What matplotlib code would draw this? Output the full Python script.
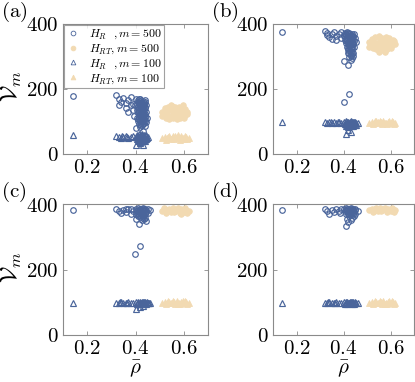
import matplotlib
matplotlib.use("Agg")
import matplotlib.pyplot as plt
from matplotlib.ticker import FuncFormatter
from matplotlib.lines import Line2D

plt.rcParams['mathtext.fontset'] = 'cm'
plt.rcParams['font.family'] = ['DejaVu Serif']

BLUE = '#4a659b'
BEIGE = '#f2dab2'

panels = ['(a)', '(b)', '(c)', '(d)']
x_ticks = [0.2, 0.4, 0.6]
y_ticks = [0, 200, 400]
legend_labels = [r'$H_R\ \ , m=500$', r'$H_{RT}, m=500$',
                 r'$H_R\ \ , m=100$', r'$H_{RT}, m=100$']

# ---------------- panel (a) ----------------
a_hr500 = [(0.14,178),(0.32,180),(0.33,170),(0.33,150),(0.35,172),(0.36,140),(0.37,165),(0.38,150),
           (0.39,135),(0.36,158),(0.34,160),(0.38,175),(0.40,168),(0.39,155),(0.37,130),
           (0.410,165),(0.420,168),(0.430,163),(0.440,160),(0.405,155),(0.415,158),(0.425,152),
           (0.435,156),(0.445,150),(0.410,145),(0.420,142),(0.430,147),(0.440,140),(0.405,135),
           (0.415,132),(0.425,137),(0.435,130),(0.445,128),(0.410,125),(0.420,120),(0.430,123),
           (0.440,118),(0.405,112),(0.415,115),(0.425,110),(0.435,108),(0.448,112),(0.410,100),
           (0.420,104),(0.430,98),(0.440,102),(0.415,92),(0.425,88),(0.435,94),(0.445,97),
           (0.400,80),(0.430,72),(0.420,82),(0.440,85),(0.395,118),(0.398,150),
           (0.412,160),(0.422,155),(0.432,150),(0.418,148),(0.428,140),(0.438,145),(0.412,138),
           (0.422,128),(0.432,133),(0.418,118),(0.428,115),(0.438,122),(0.412,108),(0.422,96),
           (0.432,105),(0.428,160),(0.438,165),(0.415,170),(0.425,126),(0.440,110),
           (0.417,163),(0.427,157),(0.437,152),(0.417,153),(0.433,141),(0.423,135),(0.413,128),
           (0.433,127),(0.418,124),(0.428,120),(0.423,113),(0.433,114),(0.418,103),(0.428,108),
           (0.426,100),(0.420,90),(0.430,92)]
a_hrt500 = [(0.520,140),(0.535,145),(0.550,147),(0.565,145),(0.580,146),(0.595,143),(0.605,138),
            (0.510,130),(0.525,133),(0.540,135),(0.555,132),(0.570,136),(0.585,134),(0.600,131),
            (0.615,128),(0.515,120),(0.530,122),(0.545,118),(0.560,123),(0.575,120),(0.590,121),
            (0.605,119),(0.612,124),(0.525,110),(0.540,108),(0.555,112),(0.570,107),(0.585,110),
            (0.600,112),(0.510,116),(0.595,150),(0.545,150)]
a_hr100 = [(0.14,57),(0.32,55),(0.33,52),(0.34,50),(0.35,53),(0.36,55),(0.37,50),(0.38,52),(0.39,54),
           (0.345,55),(0.365,51),(0.405,58),(0.415,60),(0.425,61),(0.435,59),(0.445,57),(0.400,52),
           (0.410,50),(0.420,53),(0.430,51),(0.440,50),(0.450,52),(0.405,45),(0.415,43),(0.425,46),
           (0.435,44),(0.445,45),(0.410,40),(0.420,38),(0.430,41),(0.440,39),(0.400,28),(0.430,28),
           (0.420,33),(0.412,55),(0.422,56),(0.432,55),(0.442,54),(0.418,48),(0.428,49),(0.438,48),
           (0.412,46),(0.432,46),(0.422,42),(0.408,55),(0.448,48),(0.417,58),(0.427,57),(0.437,56),
           (0.425,50),(0.435,50),(0.415,51)]
a_hrt100 = [(0.510,50),(0.520,53),(0.530,48),(0.540,55),(0.550,50),(0.560,46),(0.570,52),(0.580,49),
            (0.590,54),(0.600,47),(0.610,51),(0.620,48),(0.525,44),(0.555,56),(0.585,44),(0.605,55),
            (0.545,47),(0.575,57),(0.615,45),(0.535,51),(0.565,54),(0.595,50)]

# ---------------- panel (b) ----------------
b_hr500 = [(0.14,375),(0.32,378),(0.33,372),(0.33,365),(0.34,360),(0.35,368),(0.36,375),(0.37,362),
           (0.38,370),(0.39,358),(0.37,352),(0.39,375),(0.40,365),(0.35,355),
           (0.405,372),(0.415,375),(0.425,373),(0.435,370),(0.445,368),(0.400,362),(0.410,365),
           (0.420,362),(0.430,364),(0.440,360),(0.450,358),(0.405,352),(0.415,355),(0.425,350),
           (0.435,353),(0.445,348),(0.410,342),(0.420,340),(0.430,344),(0.440,338),(0.455,345),
           (0.415,330),(0.425,332),(0.435,328),(0.445,330),(0.418,320),(0.428,318),(0.438,322),
           (0.420,310),(0.430,305),(0.440,312),(0.425,298),(0.435,295),(0.430,290),(0.400,285),
           (0.420,275),(0.404,160),(0.424,184),
           (0.412,368),(0.422,368),(0.432,367),(0.442,364),(0.418,358),(0.428,357),(0.438,358),
           (0.412,348),(0.422,346),(0.432,348),(0.442,343),(0.428,337),(0.420,325),(0.432,325),
           (0.424,312),(0.435,310),(0.440,300),(0.417,371),(0.427,362),(0.437,363),(0.417,352),
           (0.427,344),(0.437,340),(0.422,334),(0.433,334),(0.426,322),(0.430,315),(0.434,302)]
b_hrt500 = [(0.520,355),(0.535,360),(0.550,362),(0.565,358),(0.580,361),(0.595,356),(0.610,352),
            (0.510,345),(0.525,348),(0.540,343),(0.555,350),(0.570,346),(0.585,349),(0.600,344),
            (0.615,347),(0.515,335),(0.530,338),(0.545,333),(0.560,336),(0.575,332),(0.590,337),
            (0.605,334),(0.620,338),(0.525,325),(0.540,322),(0.555,327),(0.570,320),(0.585,324),
            (0.600,326),(0.550,315),(0.575,313),(0.510,330)]
b_hr100 = [(0.14,97),(0.32,98),(0.33,96),(0.34,97),(0.35,95),(0.36,98),(0.37,96),(0.38,97),(0.39,95),
           (0.345,99),(0.375,99),(0.400,98),(0.410,100),(0.420,99),(0.430,101),(0.440,98),(0.450,97),
           (0.460,95),(0.405,92),(0.415,90),(0.425,93),(0.435,91),(0.445,92),(0.455,90),(0.410,86),
           (0.420,84),(0.430,87),(0.440,85),(0.410,60),(0.430,68),(0.420,75),
           (0.412,95),(0.422,96),(0.432,96),(0.442,95),(0.452,94),(0.418,89),(0.428,89),(0.438,88),
           (0.448,88),(0.416,99),(0.426,98),(0.436,99),(0.446,99)]
b_hrt100 = [(0.510,95),(0.520,98),(0.530,96),(0.540,100),(0.550,95),(0.560,98),(0.570,101),(0.580,96),
            (0.590,99),(0.600,95),(0.610,98),(0.620,96),(0.525,93),(0.555,102),(0.585,93),(0.605,101),
            (0.545,97),(0.575,94),(0.615,93),(0.535,102),(0.565,93),(0.595,102)]

# ---------------- panel (c) ----------------
c_hr500 = [(0.14,383),(0.32,384),(0.33,378),(0.34,372),(0.35,383),(0.36,376),(0.37,384),(0.38,370),
           (0.39,380),(0.36,385),(0.38,385),(0.46,383),(0.45,372),
           (0.400,385),(0.410,387),(0.420,386),(0.430,388),(0.440,385),(0.450,384),(0.405,378),
           (0.415,380),(0.425,377),(0.435,379),(0.445,376),(0.400,370),(0.410,371),(0.420,368),
           (0.430,372),(0.440,369),(0.410,362),(0.420,360),(0.430,364),(0.440,358),(0.425,352),
           (0.435,355),(0.400,355),(0.445,348),(0.415,340),(0.398,246),(0.419,272),
           (0.412,382),(0.422,382),(0.432,383),(0.442,381),(0.418,374),(0.428,374),(0.438,374),
           (0.412,366),(0.425,366),(0.435,367),(0.430,358),(0.417,385),(0.427,385),(0.437,386),
           (0.423,371),(0.433,369)]
c_hrt500 = [(0.510,380),(0.520,384),(0.530,378),(0.540,386),(0.550,381),(0.560,375),(0.570,383),
            (0.580,379),(0.590,385),(0.600,377),(0.610,382),(0.620,379),(0.525,373),(0.555,388),
            (0.585,372),(0.605,387),(0.545,376),(0.575,388),(0.615,374),(0.535,383),(0.565,380),
            (0.595,380),(0.517,388),(0.590,370)]
c_hr100 = [(0.14,99),(0.32,99),(0.33,98),(0.34,100),(0.35,98),(0.36,99),(0.37,100),(0.38,98),(0.39,99),
           (0.335,101),(0.365,97),(0.400,100),(0.410,102),(0.420,99),(0.430,101),(0.440,100),
           (0.450,98),(0.460,99),(0.405,96),(0.415,95),(0.425,97),(0.435,95),(0.445,96),(0.455,97),
           (0.404,80),(0.420,85),(0.430,88),(0.412,98),(0.422,98),(0.432,98),(0.442,98),(0.452,99),
           (0.417,101),(0.427,100),(0.437,101),(0.447,100)]
c_hrt100 = [(0.510,97),(0.520,100),(0.530,98),(0.540,102),(0.550,97),(0.560,100),(0.570,103),
            (0.580,98),(0.590,101),(0.600,97),(0.610,100),(0.620,98),(0.525,95),(0.555,104),
            (0.585,95),(0.605,103),(0.545,99),(0.575,96),(0.615,95),(0.535,104),(0.565,95),(0.595,104)]

# ---------------- panel (d) ----------------
d_hr500 = [(0.14,383),(0.32,384),(0.33,378),(0.34,370),(0.35,382),(0.36,375),(0.37,384),(0.38,380),
           (0.39,385),(0.385,372),(0.45,384),(0.46,380),(0.45,368),
           (0.400,385),(0.410,387),(0.420,386),(0.430,388),(0.440,385),(0.450,383),(0.405,378),
           (0.415,380),(0.425,377),(0.435,379),(0.445,376),(0.410,370),(0.420,368),(0.430,372),
           (0.440,369),(0.425,362),(0.415,355),(0.430,350),(0.435,358),(0.410,333),(0.420,345),
           (0.445,363),(0.412,382),(0.422,382),(0.432,383),(0.442,381),(0.418,374),(0.428,374),
           (0.438,374),(0.425,368),(0.417,386),(0.427,385),(0.437,386),(0.433,377)]
d_hrt500 = [(0.510,382),(0.520,385),(0.530,380),(0.540,387),(0.550,383),(0.560,378),(0.570,385),
            (0.580,381),(0.590,386),(0.600,379),(0.610,384),(0.620,381),(0.525,377),(0.555,388),
            (0.585,377),(0.605,388),(0.545,379),(0.575,388),(0.615,377),(0.535,384),(0.565,382),
            (0.595,382)]
d_hr100 = [(0.14,99),(0.32,99),(0.33,98),(0.34,100),(0.35,98),(0.36,99),(0.37,100),(0.38,98),(0.39,99),
           (0.335,101),(0.365,97),(0.400,100),(0.410,102),(0.420,99),(0.430,101),(0.440,100),
           (0.450,98),(0.460,99),(0.405,96),(0.415,95),(0.425,97),(0.435,95),(0.445,96),(0.455,97),
           (0.412,98),(0.422,98),(0.432,98),(0.442,98),(0.417,101),(0.427,100),(0.437,101),
           (0.447,100)]
d_hrt100 = [(0.510,97),(0.520,100),(0.530,98),(0.540,102),(0.550,97),(0.560,100),(0.570,103),
            (0.580,98),(0.590,101),(0.600,97),(0.610,100),(0.620,98),(0.525,95),(0.555,104),
            (0.585,95),(0.605,103),(0.545,99),(0.575,96),(0.615,95),(0.535,104),(0.565,95),(0.595,104)]

data = [
    (a_hr500, a_hrt500, a_hr100, a_hrt100),
    (b_hr500, b_hrt500, b_hr100, b_hrt100),
    (c_hr500, c_hrt500, c_hr100, c_hrt100),
    (d_hr500, d_hrt500, d_hr100, d_hrt100),
]

W, H = 415, 382
fig = plt.figure(figsize=(W / 100, H / 100), dpi=100)
boxes = [(63, 24, 145, 130), (273, 24, 141, 130), (63, 204, 145, 131), (273, 204, 141, 131)]
FRAME = '#8a8a8a'
fmt = FuncFormatter(lambda v, p: f'${v:g}$')

ms = 4.0
for i, (bx, by, bw, bh) in enumerate(boxes):
    ax = fig.add_axes([bx / W, 1 - (by + bh) / H, bw / W, bh / H])
    hr500, hrt500, hr100, hrt100 = data[i]

    def xy(pts):
        return [p[0] for p in pts], [p[1] for p in pts]

    x, y = xy(hrt500)
    ax.plot(x, y, 'o', ms=ms, mfc=BEIGE, mec=BEIGE, mew=0.6, ls='none')
    x, y = xy(hrt100)
    ax.plot(x, y, '^', ms=ms, mfc=BEIGE, mec=BEIGE, mew=0.6, ls='none')
    x, y = xy(hr500)
    ax.plot(x, y, 'o', ms=ms, mfc='none', mec=BLUE, mew=0.85, ls='none')
    x, y = xy(hr100)
    ax.plot(x, y, '^', ms=ms, mfc='none', mec=BLUE, mew=0.85, ls='none')

    ax.set_xlim(0.1, 0.7)
    ax.set_ylim(0, 400)
    ax.set_xticks(x_ticks)
    ax.set_yticks(y_ticks)
    ax.xaxis.set_major_formatter(fmt)
    ax.yaxis.set_major_formatter(fmt)
    ax.tick_params(direction='in', length=3, width=0.6, color=FRAME,
                   top=True, right=True, labelsize=15, pad=3)
    for s in ax.spines.values():
        s.set_color(FRAME)
        s.set_linewidth(0.8)

    fig.text((bx - 62) / W, 1 - (by - 12) / H, r'$\mathrm{' + panels[i] + '}$',
             fontsize=15, ha='left', va='center')
    if i in (0, 2):
        ax.set_ylabel(r'$\mathcal{V}_m$', fontsize=17)
        ax.yaxis.set_label_coords(-0.27, 0.52)
    if i in (2, 3):
        ax.set_xlabel(r'$\bar{\rho}$', fontsize=15, labelpad=0)
    if i == 0:
        handles = [
            Line2D([], [], marker='o', ls='none', ms=3.4, mfc='none', mec=BLUE, mew=0.6),
            Line2D([], [], marker='o', ls='none', ms=3.4, mfc=BEIGE, mec=BEIGE, mew=0.6),
            Line2D([], [], marker='^', ls='none', ms=3.4, mfc='none', mec=BLUE, mew=0.6),
            Line2D([], [], marker='^', ls='none', ms=3.4, mfc=BEIGE, mec=BEIGE, mew=0.6),
        ]
        leg = ax.legend(handles, legend_labels, loc='upper left', bbox_to_anchor=(0.0, 1.0),
                        fontsize=8.6, frameon=True, fancybox=False, borderpad=0.2,
                        labelspacing=0.05, handletextpad=0.7, handlelength=1.2,
                        borderaxespad=0.05)
        leg.get_frame().set_edgecolor(FRAME)
        leg.get_frame().set_linewidth(0.8)

fig.savefig('out.png', dpi=100)
